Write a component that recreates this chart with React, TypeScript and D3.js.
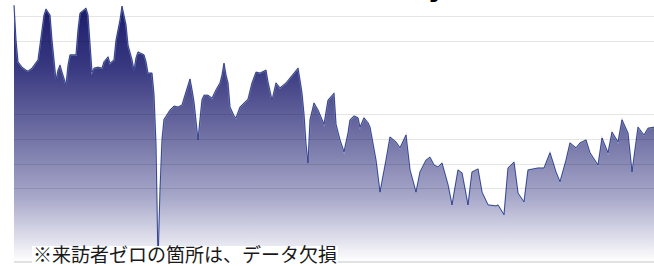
import React from 'react';
import * as d3 from 'd3';

// day index (x) and visitor count (y)
const days = [
  0, 1, 2, 4, 6, 7, 9, 12, 13, 15, 16, 17, 18, 19, 21, 22, 23, 24, 26, 27, 28, 31, 32, 33, 36, 37, 39, 40,
  42, 44, 45, 47, 48, 50, 51, 53, 54, 56, 57, 59, 60, 61, 62, 65, 66, 67, 69, 70, 71, 72, 73, 74, 75, 76,
  78, 80, 82, 84, 86, 88, 89, 90, 92, 93, 94, 95, 97, 99, 101, 103, 104, 105, 106, 107, 108, 110, 111, 113,
  117, 119, 121, 123, 126, 127, 129, 131, 133, 136, 138, 142, 143, 144, 145, 146, 147, 148, 150, 152, 155,
  157, 160, 161, 163, 165, 167, 168, 170, 172, 173, 175, 177, 178, 181, 183, 186, 188, 191, 193, 196, 198,
  201, 203, 206, 208, 210, 212, 214, 217, 219, 222, 224, 227, 229, 232, 234, 237, 241, 242, 245, 247, 250,
  252, 255, 257, 262, 265, 268, 271, 273, 276, 278, 281, 283, 286, 288, 292, 294, 297, 299, 302, 304, 307,
  309, 312, 315, 317, 320,
];
const visitors = [
  522, 451, 407, 396, 390, 388, 394, 411, 441, 502, 514, 508, 502, 451, 370, 390, 400, 386, 360, 400, 421, 421, 472, 506, 516, 502, 386, 394,
  396, 394, 407, 417, 404, 411, 451, 492, 520, 482, 441, 411, 390, 415, 427, 421, 407, 384, 384, 340, 238, 0, 146, 248, 290, 296,
  309, 317, 315, 319, 346, 372, 350, 325, 248, 290, 330, 339, 339, 333, 350, 364, 380, 404, 380, 364, 315, 297, 293, 315,
  331, 364, 386, 384, 390, 366, 329, 364, 354, 364, 374, 394, 370, 343, 300, 240, 201, 289, 323, 309, 280,
  329, 343, 280, 248, 224, 262, 289, 297, 293, 274, 293, 283, 274, 207, 142, 207, 254, 244, 232, 258, 187,
  142, 183, 207, 213, 197, 193, 201, 157, 116, 187, 181, 116, 183, 189, 142, 116, 114, 116, 96, 191, 203,
  140, 122, 187, 191, 191, 222, 183, 163, 207, 242, 232, 242, 248, 222, 197, 252, 222, 264, 244, 289, 262,
  183, 274, 258, 272, 274,
];
const gridValues = [150, 200, 250, 300, 450, 500];
const title = 'Daily';
const note = '※来訪者ゼロの箇所は、データ欠損';

const W = 654;
const H = 266;
const left = 14;
const bottom = 262;

export default function App() {
  const x = d3.scaleLinear().domain([0, 320]).range([left, W]);
  const y = d3.scaleLinear().domain([0, 500]).range([bottom, 16]);
  const points = days.map((d, i) => [d, visitors[i]] as [number, number]);

  const area = d3.area<[number, number]>()
    .x(d => x(d[0]))
    .y0(y(0))
    .y1(d => y(d[1]));
  const line = d3.line<[number, number]>()
    .x(d => x(d[0]))
    .y(d => y(d[1]));

  const top = y(d3.max(visitors) as number);

  return (
    <svg width={W} height={H} style={{ position: 'absolute', left: 0, top: 0, background: '#fff' }}>
      <defs>
        <linearGradient id="fillGrad" gradientUnits="userSpaceOnUse" x1="0" x2="0" y1={top} y2={bottom}>
          <stop offset="0" stopColor="#1b1b6a" />
          <stop offset="0.25" stopColor="#3a3a82" />
          <stop offset="0.5" stopColor="#6f6fa3" />
          <stop offset="0.75" stopColor="#a8a8ca" />
          <stop offset="1" stopColor="#ffffff" />
        </linearGradient>
      </defs>
      <path d={area(points) ?? ''} fill="url(#fillGrad)" />
      <path d={line(points) ?? ''} fill="none" stroke="#9ec3ec" strokeWidth={1.6} strokeOpacity={0.6} />
      <path d={line(points) ?? ''} fill="none" stroke="#202072" strokeWidth={0.8} />
      {gridValues.map(v => (
        <line key={v} x1={left} x2={W} y1={Math.round(y(v)) + 0.5} y2={Math.round(y(v)) + 0.5}
          stroke="#000" strokeOpacity={0.1} strokeWidth={1} />
      ))}
      <line x1={left} x2={W} y1={y(0)} y2={y(0)} stroke="#d8d8d8" strokeWidth={1.5} />
      {/* title sits above the crop, only the tail of the y shows */}
      <text x={446} y={-4} textAnchor="end" fontSize={28} fontWeight="bold"
        fontFamily="'DejaVu Sans', sans-serif" fill="#000">{title}</text>
      <rect x={32} y={246} width={306} height={20} fill="#fff" />
      <text x={33} y={262} fontSize={19} fontFamily="'Noto Sans CJK JP', sans-serif" fill="#1a1a1a">{note}</text>
    </svg>
  );
}
